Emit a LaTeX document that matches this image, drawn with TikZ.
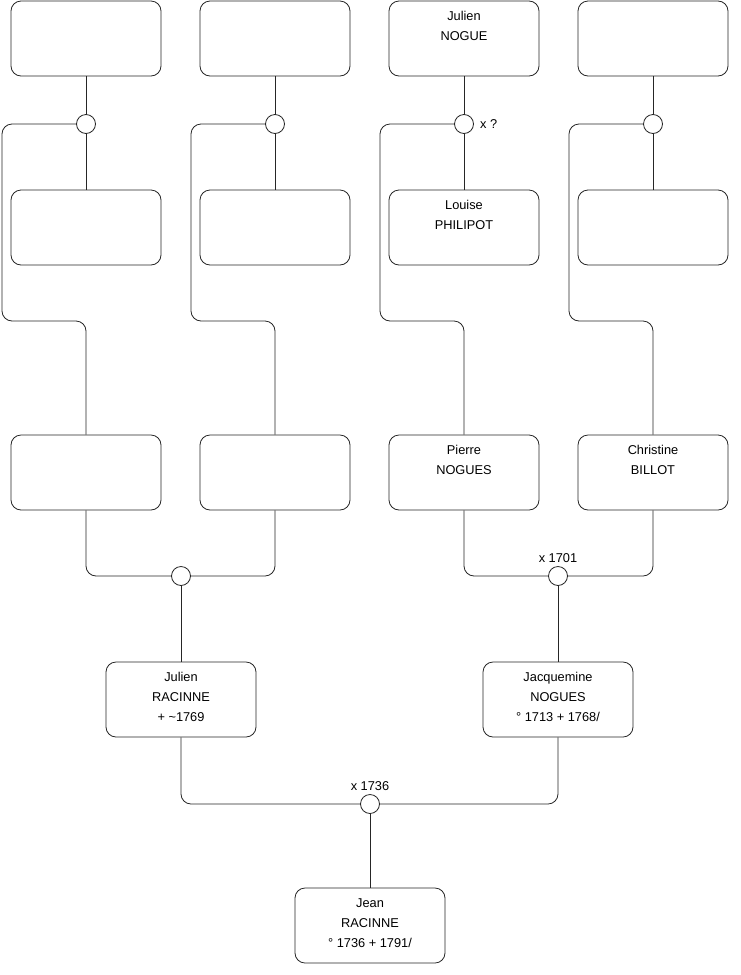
\documentclass[tikz,border=0pt]{standalone}
\usepackage{fontspec}
\setmainfont{Liberation Sans}
\begin{document}
\begin{tikzpicture}[x=1pt,y=-1pt,
  person/.style={draw=black!85, line width=0.8pt, rounded corners=10pt, minimum width=150pt, minimum height=75pt, inner sep=0pt},
  ptext/.style={anchor=north, align=center, inner sep=0pt, font=\fontsize{12.8}{20}\selectfont, execute at begin node=\strut},
  union/.style={draw=black!85, line width=0.8pt, circle, minimum size=19pt, inner sep=0pt, fill=white},
  link/.style={line width=0.8pt, draw=black!85, rounded corners=10pt},
  utext/.style={font=\fontsize{12.8}{14}\selectfont, inner sep=0pt}]
\useasboundingbox (0,0) rectangle (740,975);
% row 1
\node[person] (p1) at (86,38.5) {};
\node[person] (p2) at (275,38.5) {};
\node[person] (p3) at (464,38.5) {};
\node[person] (p4) at (653,38.5) {};
% row 2
\node[person] (s1) at (86,227.5) {};
\node[person] (s2) at (275,227.5) {};
\node[person] (s3) at (464,227.5) {};
\node[person] (s4) at (653,227.5) {};
% row 3
\node[person] (k1) at (86,472.5) {};
\node[person] (k2) at (275,472.5) {};
\node[person] (k3) at (464,472.5) {};
\node[person] (k4) at (653,472.5) {};
% row 4
\node[person] (g1) at (181,699.5) {};
\node[person] (g2) at (558,699.5) {};
% row 5
\node[person] (j) at (370,925.5) {};
% texts
\node[ptext] (tp3) at ([yshift=-10.5pt]p3.north) {Julien\\NOGUE};
\node[ptext] (ts3) at ([yshift=-10.5pt]s3.north) {Louise\\PHILIPOT};
\node[ptext] (tk3) at ([yshift=-10.5pt]k3.north) {Pierre\\NOGUES};
\node[ptext] (tk4) at ([yshift=-10.5pt]k4.north) {Christine\\BILLOT};
\node[ptext] (tg1) at ([yshift=-10.5pt]g1.north) {Julien\\RACINNE\\+ \textasciitilde1769};
\node[ptext] (tg2) at ([yshift=-10.5pt]g2.north) {Jacquemine\\NOGUES\\° 1713 + 1768/};
\node[ptext] (tj) at ([yshift=-10.5pt]j.north) {Jean\\RACINNE\\° 1736 + 1791/};
% union circles
\node[union] (c1) at (86,124) {};
\node[union] (c2) at (275,124) {};
\node[union] (c3) at (464,124) {};
\node[union] (c4) at (653,124) {};
\node[union] (m1) at (181,576) {};
\node[union] (m2) at (558,576) {};
\node[union] (r) at (370,804) {};
% connectors top couples
\draw[link] (p1.south) -- (c1.north); \draw[link] (c1.south) -- (s1.north);
\draw[link] (p2.south) -- (c2.north); \draw[link] (c2.south) -- (s2.north);
\draw[link] (p3.south) -- (c3.north); \draw[link] (c3.south) -- (s3.north);
\draw[link] (p4.south) -- (c4.north); \draw[link] (c4.south) -- (s4.north);
% children lines
\draw[link] (c1.west) -- (2,124) -- (2,321) -- (86,321) -- (k1.north);
\draw[link] (c2.west) -- (191,124) -- (191,321) -- (275,321) -- (k2.north);
\draw[link] (c3.west) -- (380,124) -- (380,321) -- (464,321) -- (k3.north);
\draw[link] (c4.west) -- (569,124) -- (569,321) -- (653,321) -- (k4.north);
% row 3 couples
\draw[link] (k1.south) |- (m1.west);
\draw[link] (k2.south) |- (m1.east);
\draw[link] (k3.south) |- (m2.west);
\draw[link] (k4.south) |- (m2.east);
\draw[link] (m1.south) -- (g1.north);
\draw[link] (m2.south) -- (g2.north);
% row 4 couple
\draw[link] (g1.south) |- (r.west);
\draw[link] (g2.south) |- (r.east);
\draw[link] (r.south) -- (j.north);
% union labels
\node[utext, anchor=west] (l3) at ([xshift=6pt]c3.east) {x ?};
\node[utext, anchor=base] (lm2) at (558,562) {x 1701};
\node[utext, anchor=base] (lr) at (370,790) {x 1736};
\end{tikzpicture}
\end{document}
